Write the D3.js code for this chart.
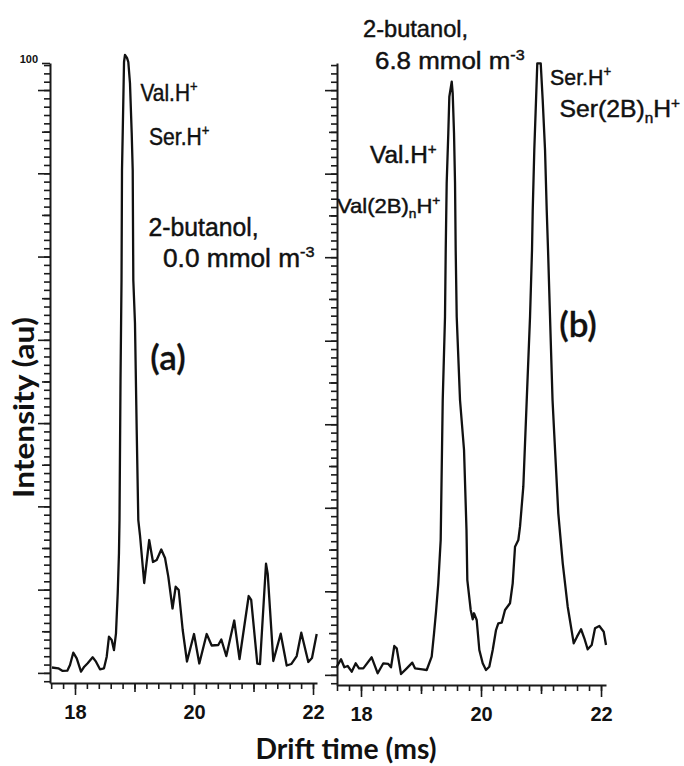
<!DOCTYPE html>
<html>
<head>
<meta charset="utf-8">
<script src="https://cdn.jsdelivr.net/npm/d3@7"></script>
<style>
  html, body { margin: 0; padding: 0; background: #ffffff; }
  svg { display: block; }
</style>
</head>
<body>
<div id="chart"></div>
<script>
// ---------- DATA ----------
// Panel (a): 2-butanol 0.0 mmol m-3
const driftA = [17.613,17.719,17.793,17.871,17.916,17.971,18.029,18.101,18.156,18.213,
  18.297,18.353,18.420,18.487,18.533,18.571,18.617,18.655,18.689,18.718,
  18.739,18.748,18.765,18.782,18.790,18.802,18.824,18.840,18.874,18.896,
  18.924,18.953,18.970,18.980,19.008,19.037,19.064,19.092,19.163,19.247,
  19.311,19.373,19.450,19.513,19.568,19.639,19.692,19.743,19.810,19.882,
  20.000,20.089,20.213,20.297,20.408,20.459,20.543,20.676,20.765,20.919,
  20.961,21.064,21.109,21.210,21.239,21.333,21.457,21.558,21.634,21.726,
  21.803,21.921,21.983,22.062];
const intensityA = [2.50,2.37,1.94,1.98,2.90,4.89,3.98,1.82,2.63,3.18,
  4.15,3.44,2.21,2.37,4.24,7.47,6.94,5.32,8.02,14.47,
  20.97,26.29,48.87,65.0,82.74,88.71,100.16,101.29,100.81,100.16,
  96.77,88.71,82.74,65.0,58.06,40.81,26.29,23.87,16.13,23.06,
  19.52,19.84,21.53,20.16,17.15,12.02,15.53,15.0,8.55,3.47,
  7.90,3.15,7.90,6.05,6.13,7.02,4.35,10.08,3.87,14.03,
  13.39,3.11,3.06,19.24,17.58,3.55,7.95,2.82,3.06,4.35,
  8.11,3.39,4.03,7.90];

// Panel (b): 2-butanol 6.8 mmol m-3
const driftB = [17.595,17.667,17.722,17.778,17.845,17.912,17.967,18.038,18.178,18.278,
  18.372,18.455,18.500,18.555,18.595,18.667,18.762,18.855,18.900,19.022,
  19.095,19.178,19.217,19.250,19.288,19.328,19.362,19.400,19.412,19.428,
  19.455,19.472,19.512,19.528,19.550,19.567,19.578,19.595,19.650,19.717,
  19.758,19.772,19.828,19.862,19.883,19.928,19.972,20.028,20.083,20.138,
  20.195,20.250,20.288,20.345,20.400,20.483,20.528,20.567,20.622,20.650,
  20.705,20.762,20.817,20.850,20.862,20.888,20.917,20.938,20.995,21.028,
  21.067,21.095,21.117,21.150,21.192,21.217,21.288,21.362,21.445,21.545,
  21.600,21.667,21.722,21.778,21.845,21.900,21.972,22.045,22.083];
const intensityB = [2.94,4.13,2.85,3.05,2.14,3.49,2.68,2.68,4.45,1.88,
  3.49,3.38,2.85,6.27,5.90,1.77,2.68,3.59,2.68,2.52,
  2.41,4.55,8.31,11.74,16.35,23.31,45.82,59.21,69.94,80.71,
  88.75,94.58,96.99,95.18,88.75,80.71,69.94,59.21,45.82,37.78,
  24.92,16.88,12.06,10.56,11.53,10.45,5.63,3.49,2.41,2.94,
  5.63,8.84,9.92,10.02,12.06,13.14,16.35,22.23,23.31,25.45,
  31.88,45.82,59.21,69.94,76.37,86.01,94.05,99.95,99.95,94.05,
  86.01,76.37,69.94,59.21,45.82,41.0,27.6,19.57,12.59,6.70,
  7.77,8.96,7.51,5.74,6.43,9.12,9.49,8.57,6.43];

// Tick labels
const xTickLabels = [18, 20, 22];
const xMediumTicks = [19, 21];
const xMinorStep = 0.2;
const yTopLabel = "100";
const yTickStart = 1.63, yTickStep = 13.43;

// Texts
const xTitle = "Drift time (ms)";
const yTitle = "Intensity (au)";

// ---------- LAYOUT ----------
const W = 684, H = 766;
const svg = d3.select("#chart").append("svg").attr("width", W).attr("height", H);
svg.append("rect").attr("width", W).attr("height", H).attr("fill", "#ffffff");

const xA = d3.scaleLinear().domain([17.58, 22.067]).range([50, 317]);
const yA = d3.scaleLinear().domain([0, 100]).range([683, 63]);
const xB = d3.scaleLinear().domain([17.6, 22.083]).range([337, 606]);
const yB = d3.scaleLinear().domain([0, 100]).range([685, 63]);

const yMajor = d3.range(0, 8).map(k => yTickStart + k * yTickStep);
const yMedium = d3.range(0, 7).map(k => yTickStart + (k + 0.5) * yTickStep);
const yMinor = d3.range(-1, 75).map(j => yTickStart + j * yTickStep / 10).filter(v => v >= 0.1 && v <= 99.8);

const axisColor = "#1a1a1a";

function styleAxis(g) {
  g.attr("color", axisColor);
  g.selectAll("line").attr("stroke-width", 1.6);
  g.selectAll(".domain").attr("stroke-width", 2);
}

function drawPanel(x, y, drift, inten, topLabel) {
  const [x0, x1] = x.domain();
  const xMinor = d3.range(17.6, 22.05, xMinorStep).filter(v => v >= x0 - 1e-6 && v <= x1 + 1e-6);
  const by = y.range()[0];
  const lx = x.range()[0];

  // x axis
  const gx = svg.append("g").attr("transform", `translate(0,${by})`);
  gx.call(d3.axisBottom(x).tickValues(xMinor).tickSize(6).tickSizeOuter(0).tickFormat(""));
  gx.append("g").call(d3.axisBottom(x).tickValues(xMediumTicks).tickSize(9).tickFormat(""))
    .call(g => g.select(".domain").remove());
  const gxl = gx.append("g").call(d3.axisBottom(x).tickValues(xTickLabels).tickSize(12).tickPadding(10).tickFormat(d3.format("d")))
    .call(g => g.select(".domain").remove());
  gxl.selectAll("text")
    .attr("font-family", "'Liberation Sans', Arial, sans-serif")
    .attr("font-weight", "bold")
    .attr("font-size", 20)
    .attr("fill", "#111");
  styleAxis(gx);

  // y axis
  const gy = svg.append("g").attr("transform", `translate(${lx},0)`);
  gy.call(d3.axisLeft(y).tickValues(yMinor).tickSize(6).tickSizeOuter(0).tickFormat(""));
  gy.append("g").call(d3.axisLeft(y).tickValues(yMedium).tickSize(8).tickFormat(""))
    .call(g => g.select(".domain").remove());
  gy.append("g").call(d3.axisLeft(y).tickValues(yMajor).tickSize(12).tickFormat(""))
    .call(g => g.select(".domain").remove());
  if (topLabel) {
    const gt = gy.append("g").call(d3.axisLeft(y).tickValues([100]).tickSize(8).tickPadding(4).tickFormat(() => topLabel))
      .call(g => g.select(".domain").remove());
    gt.selectAll("text")
      .attr("font-family", "'Liberation Sans', Arial, sans-serif")
      .attr("font-weight", "bold")
      .attr("font-size", 11)
      .attr("dy", "-0.05em")
      .attr("fill", "#111");
  }
  styleAxis(gy);

  // trace
  const line = d3.line().x(d => x(d[0])).y(d => y(d[1]));
  svg.append("path")
    .datum(d3.zip(drift, inten))
    .attr("d", line)
    .attr("fill", "none")
    .attr("stroke", "#111")
    .attr("stroke-width", 2.3)
    .attr("stroke-linejoin", "round");
}

drawPanel(xA, yA, driftA, intensityA, yTopLabel);
drawPanel(xB, yB, driftB, intensityB, null);

// ---------- ANNOTATIONS ----------
function rich(x, y, parts, size, opts = {}) {
  const sx = opts.sx || 1;
  const g = svg.append("g").attr("transform", `translate(${x},${y}) scale(${sx},1)`);
  const t = g.append("text")
    .attr("x", 0).attr("y", 0)
    .attr("font-family", opts.family || "'Liberation Sans', Arial, sans-serif")
    .attr("font-size", size)
    .attr("font-weight", opts.weight || "normal")
    .attr("fill", "#111")
    .attr("stroke", "#111")
    .attr("stroke-width", opts.strokeW == null ? 0.45 : opts.strokeW);
  if (opts.anchor) t.attr("text-anchor", opts.anchor);
  let shift = 0;
  parts.forEach(p => {
    const target = p.sup ? -0.38 * size : p.sub ? 0.24 * size : 0;
    const ts = t.append("tspan").text(p.t).attr("dy", target - shift);
    if (p.sup || p.sub) ts.attr("font-size", 0.62 * size);
    shift = target;
  });
  return t;
}

// Panel (a)
rich(140.5, 100.5, [{t: "Val.H"}, {t: "+", sup: true}], 24, {sx: 0.87});
rich(149, 144.5, [{t: "Ser.H"}, {t: "+", sup: true}], 24, {sx: 0.88});
rich(148.5, 236, [{t: "2-butanol,"}], 25, {sx: 0.99});
rich(163, 266.5, [{t: "0.0 mmol m"}, {t: "-3", sup: true}], 25, {sx: 1.05});
rich(168, 370, [{t: "(a)"}], 35, {family: "Lato, 'Open Sans', sans-serif", anchor: "middle", weight: "600", strokeW: 0.3});

// Panel (b)
rich(363, 37, [{t: "2-butanol,"}], 24, {sx: 0.985});
rich(375, 69, [{t: "6.8 mmol m"}, {t: "-3", sup: true}], 24, {sx: 1.08});
rich(550, 85, [{t: "Ser.H"}, {t: "+", sup: true}], 23, {sx: 0.93});
rich(559.5, 117, [{t: "Ser(2B)"}, {t: "n", sub: true}, {t: "H"}, {t: "+", sup: true}], 24, {sx: 1.03});
rich(370, 163, [{t: "Val.H"}, {t: "+", sup: true}], 23, {sx: 1.06});
rich(337, 213, [{t: "Val(2B)"}, {t: "n", sub: true}, {t: "H"}, {t: "+", sup: true}], 21, {sx: 1.05});
rich(578, 337, [{t: "(b)"}], 35, {family: "Lato, 'Open Sans', sans-serif", anchor: "middle", weight: "600", strokeW: 0.3});

// Axis titles
svg.append("text")
  .attr("x", 346).attr("y", 759)
  .attr("text-anchor", "middle")
  .attr("font-family", "Lato, 'Open Sans', sans-serif")
  .attr("font-weight", "bold")
  .attr("font-size", 28)
  .attr("textLength", 181)
  .attr("lengthAdjust", "spacingAndGlyphs")
  .attr("fill", "#111")
  .text(xTitle);

svg.append("text")
  .attr("transform", "translate(33.5,407.5) rotate(-90)")
  .attr("text-anchor", "middle")
  .attr("font-family", "Lato, 'Open Sans', sans-serif")
  .attr("font-weight", "bold")
  .attr("font-size", 28)
  .attr("textLength", 181)
  .attr("lengthAdjust", "spacingAndGlyphs")
  .attr("fill", "#111")
  .text(yTitle);
</script>
</body>
</html>
